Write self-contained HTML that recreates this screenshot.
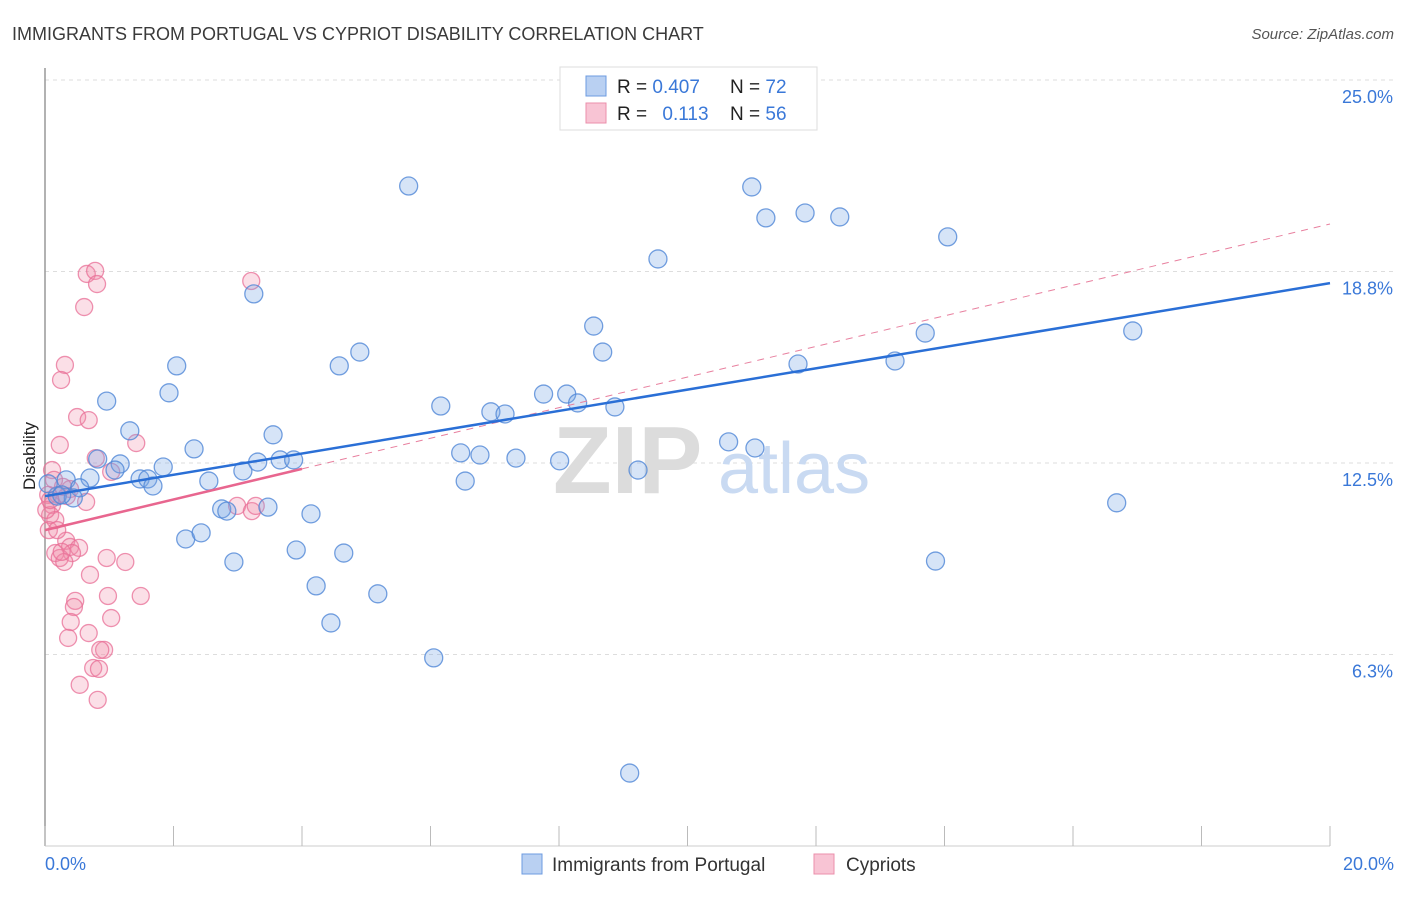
<!DOCTYPE html>
<html><head><meta charset="utf-8"><style>
body{margin:0;background:#fff;font-family:"Liberation Sans",sans-serif;}
svg text{font-family:"Liberation Sans",sans-serif;}
</style></head><body>
<svg id="chart" width="1406" height="892" viewBox="0 0 1406 892">
<text x="12" y="40" font-size="18" fill="#3a3a3a">IMMIGRANTS FROM PORTUGAL VS CYPRIOT DISABILITY CORRELATION CHART</text>
<text x="1394" y="39" font-size="15" fill="#555" font-style="italic" text-anchor="end">Source: ZipAtlas.com</text>
<g id="grid"></g>
<g>
<text x="553" y="493" font-size="96" font-family="Liberation Serif" fill="#dcdcdc" font-weight="bold">ZIP</text>
<text x="718" y="493" font-size="72" fill="#c9daf2">atlas</text>
</g>
<line x1="45" y1="68" x2="45" y2="846" stroke="#999" stroke-width="1.5"/>
<line x1="45" y1="846" x2="1330" y2="846" stroke="#ccc" stroke-width="1"/>
<g id="xticks"></g>
<g id="ylabels"></g>
<text x="35" y="456" font-size="17" fill="#222" text-anchor="middle" transform="rotate(-90 35 456)">Disability</text>
<text x="45" y="870" font-size="18" fill="#3a78d8">0.0%</text>
<text x="1394" y="870" font-size="18" fill="#3a78d8" text-anchor="end">20.0%</text>
<g id="pink"></g>
<g id="blue"></g>
<g id="lines"></g>
<g>
<rect x="560" y="67" width="257" height="63" fill="#fff" stroke="#ddd"/>
<rect x="586" y="76" width="20" height="20" fill="#b9d0f2" stroke="#6d9be0"/>
<rect x="586" y="103" width="20" height="20" fill="#f8c4d4" stroke="#eb8fab"/>
<text x="617" y="93" font-size="19" fill="#222">R = <tspan fill="#3a78d8">0.407</tspan></text>
<text x="730" y="93" font-size="19" fill="#222">N = <tspan fill="#3a78d8">72</tspan></text>
<text x="617" y="120" font-size="19" fill="#222">R = <tspan fill="#3a78d8" dx="10">0.113</tspan></text>
<text x="730" y="120" font-size="19" fill="#222">N = <tspan fill="#3a78d8">56</tspan></text>
</g>
<g>
<rect x="522" y="854" width="20" height="20" fill="#b9d0f2" stroke="#6d9be0"/>
<text x="552" y="871" font-size="19" fill="#333">Immigrants from Portugal</text>
<rect x="814" y="854" width="20" height="20" fill="#f8c4d4" stroke="#eb8fab"/>
<text x="846" y="871" font-size="19" fill="#333">Cypriots</text>
</g>
</svg>
<script>
const yTicks=[25,18.75,12.5,6.25];
const yTickLabels=["25.0%","18.8%","12.5%","6.3%"];
const xTickVals=[0,2,4,6,8,10,12,14,16,18,20];
const blueX=[5.66,11.00,11.22,11.83,12.37,14.05,9.54,3.25,8.54,4.90,8.68,4.58,2.05,11.72,13.23,13.70,16.93,1.93,0.96,7.76,8.12,8.29,6.16,6.94,7.16,8.87,1.32,3.55,2.32,10.64,11.05,6.47,6.77,7.33,8.01,9.23,0.82,1.17,1.84,3.08,3.31,3.66,3.87,0.33,0.70,1.48,1.60,1.68,2.55,0.54,0.19,0.44,2.75,2.83,3.47,4.14,2.19,2.43,3.91,4.65,2.94,4.22,5.18,4.45,6.05,9.10,16.68,13.86,6.54,0.05,1.09,0.26];
const blueY=[21.54,21.51,20.50,20.66,20.53,19.88,19.16,18.02,16.97,16.12,16.12,15.67,15.67,15.73,15.83,16.74,16.81,14.79,14.52,14.75,14.75,14.46,14.36,14.17,14.10,14.33,13.55,13.42,12.96,13.19,12.99,12.83,12.76,12.66,12.57,12.27,12.63,12.47,12.37,12.24,12.53,12.60,12.60,11.95,12.01,11.98,11.98,11.75,11.91,11.69,11.42,11.36,11.00,10.93,11.06,10.84,10.02,10.22,9.66,9.56,9.27,8.49,8.23,7.28,6.14,2.38,11.20,9.30,11.91,11.82,12.27,11.46];
const pinkX=[0.65,0.78,0.81,0.61,3.21,0.31,0.25,0.50,0.68,0.23,1.42,0.79,1.03,0.39,0.20,0.64,0.11,0.08,0.16,0.06,0.33,0.39,0.53,0.16,0.42,0.23,0.30,0.96,1.25,0.70,1.49,0.98,0.47,0.45,0.40,1.03,0.68,0.36,0.92,0.86,0.75,0.84,0.54,0.82,2.99,3.22,3.28,0.05,0.02,0.11,0.28,0.08,0.19,0.26,0.34,0.14];
const pinkY=[18.67,18.77,18.34,17.59,18.44,15.70,15.21,14.00,13.90,13.09,13.15,12.66,12.21,11.65,11.46,11.23,11.13,10.80,10.64,10.31,9.96,9.76,9.73,9.56,9.56,9.40,9.27,9.40,9.27,8.85,8.16,8.16,8.00,7.80,7.31,7.44,6.95,6.79,6.40,6.40,5.81,5.78,5.26,4.77,11.10,10.93,11.10,11.46,10.97,12.27,11.72,11.29,10.31,9.60,11.42,11.95];
const blueTrend=[11.42,18.37];
const pinkTrend=[10.31,20.3];
const pinkSolidEnd=4;
const NS="http://www.w3.org/2000/svg";
function sx(v){return 45+v*64.25;}
function sy(v){return 846-v*30.64;}
function mk(tag,attrs,parent){const e=document.createElementNS(NS,tag);for(const k in attrs)e.setAttribute(k,attrs[k]);parent.appendChild(e);return e;}
const grid=document.getElementById('grid'),yl=document.getElementById('ylabels'),xt=document.getElementById('xticks');
yTicks.forEach((t,i)=>{
 const l=mk('line',{x1:45,x2:1394,y1:sy(t),y2:sy(t),stroke:'#ddd','stroke-dasharray':'4,4'},grid);
 
 
 const tx=mk('text',{x:1393,y:sy(t)+23,'font-size':18,fill:'#3a78d8','text-anchor':'end'},yl);
 tx.textContent=yTickLabels[i];
 
 
});
xTickVals.forEach(v=>{
 const l=mk('line',{x1:sx(v),x2:sx(v),y1:826,y2:846,stroke:'#bbb'},xt);
 
 
});
const pg=document.getElementById('pink');
pinkX.forEach((x,i)=>{
 const c=mk('circle',{cx:sx(x),cy:sy(pinkY[i]),r:8.5,fill:'rgba(242,140,170,0.28)',stroke:'rgba(232,110,150,0.75)','stroke-width':1.3},pg);
 
 
});
const bg=document.getElementById('blue');
blueX.forEach((x,i)=>{
 const c=mk('circle',{cx:sx(x),cy:sy(blueY[i]),r:9,fill:'rgba(120,165,230,0.3)',stroke:'rgba(80,135,215,0.8)','stroke-width':1.3},bg);
 
 
});
const lg=document.getElementById('lines');
const pAt=v=>pinkTrend[0]+(pinkTrend[1]-pinkTrend[0])*v/20;
const pd=mk('line',{x1:sx(pinkSolidEnd),y1:sy(pAt(pinkSolidEnd)),x2:sx(20),y2:sy(pinkTrend[1]),stroke:'#e8809f','stroke-width':1,'stroke-dasharray':'7,6'},lg);


const ps=mk('line',{x1:sx(0),y1:sy(pinkTrend[0]),x2:sx(pinkSolidEnd),y2:sy(pAt(pinkSolidEnd)),stroke:'#e8668f','stroke-width':2.5},lg);


const bl=mk('line',{x1:sx(0),y1:sy(blueTrend[0]),x2:sx(20),y2:sy(blueTrend[1]),stroke:'#2a6fd6','stroke-width':2.5},lg);


</script>
</body></html>
